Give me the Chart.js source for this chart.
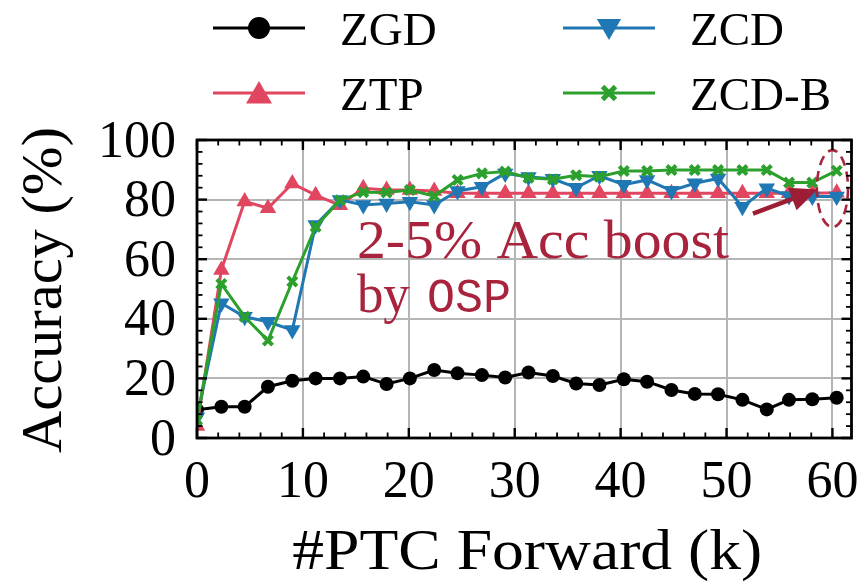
<!DOCTYPE html>
<html>
<head>
<meta charset="utf-8">
<script src="https://cdn.jsdelivr.net/npm/chart.js"></script>
<style>
  html, body { margin: 0; padding: 0; background: #fff; }
  #wrap { width: 862px; height: 581px; }
</style>
</head>
<body>
<div id="wrap"><canvas id="c" width="862" height="581"></canvas></div>
<script>
// ---- data ----
const xForwardK = [0, 2.3, 4.5, 6.7, 9.0, 11.2, 13.5, 15.7, 17.9, 20.1, 22.4, 24.6, 26.9, 29.1,
  31.3, 33.6, 35.8, 38.0, 40.3, 42.5, 44.8, 47.0, 49.2, 51.5, 53.8, 55.9, 58.1, 60.4];
const ZGD = [9.5, 10.5, 10.5, 17.2, 19.2, 20.0, 20.0, 20.6, 18.1, 20.0, 22.8, 21.7, 21.1, 20.3,
  22.0, 20.8, 18.3, 17.8, 19.7, 18.9, 16.1, 14.8, 14.7, 12.8, 9.6, 12.8, 13.0, 13.5];
const ZTP = [4.0, 56.4, 79.4, 77.1, 85.4, 81.5, 78.1, 83.8, 83.2, 83.2, 82.9, 82.1, 82.1, 82.1,
  82.1, 82.1, 82.1, 82.1, 82.1, 82.1, 82.1, 82.1, 82.1, 82.1, 82.1, 82.1, 82.1, 82.3];
const ZCD = [7.0, 45.2, 40.7, 39.0, 36.2, 71.5, 79.9, 78.2, 78.7, 79.3, 78.2, 82.9, 84.3, 88.8,
  87.6, 87.0, 84.0, 88.0, 85.0, 86.6, 83.0, 85.5, 87.1, 77.6, 83.8, 81.2, 81.0, 81.0];
const ZCDB = [6.0, 51.7, 40.7, 32.7, 52.5, 70.9, 79.8, 82.5, 82.4, 83.2, 81.2, 86.6, 88.8, 89.4,
  87.3, 86.8, 88.2, 87.7, 89.6, 89.6, 89.9, 89.9, 89.9, 89.9, 89.9, 85.7, 85.7, 89.7];
const seriesNames = ['ZGD', 'ZTP', 'ZCD', 'ZCD-B'];
const xTicks = [0, 10, 20, 30, 40, 50, 60];
const yTicks = [0, 20, 40, 60, 80, 100];
const xLabel = '#PTC Forward (k)';
const yLabel = 'Accuracy (%)';
const noteLine1 = '2-5% Acc boost';
const noteLine2a = 'by ';
const noteLine2b = 'OSP';

// ---- styling ----
const SERIF = "'Liberation Serif', 'DejaVu Serif', serif";
const MONO = "'Liberation Mono', 'DejaVu Sans Mono', monospace";
const C_BLACK = '#000000', C_RED = '#e0465f', C_BLUE = '#1f77b4', C_GREEN = '#2ca02c';
const C_NOTE = '#a8243d';

const pts = arr => arr.map((v, i) => ({ x: xForwardK[i], y: v }));

const datasets = [
  { label: seriesNames[0], data: pts(ZGD), borderColor: C_BLACK, backgroundColor: C_BLACK,
    pointStyle: 'circle', pointRadius: 7, pointBorderWidth: 0, order: 4 },
  { label: seriesNames[1], data: pts(ZTP), borderColor: C_RED, backgroundColor: C_RED,
    pointStyle: 'triangle', pointRadius: 9.5, pointBorderWidth: 0, order: 3 },
  { label: seriesNames[2], data: pts(ZCD), borderColor: C_BLUE, backgroundColor: C_BLUE,
    pointStyle: 'triangle', pointRotation: 180, pointRadius: 9.5, pointBorderWidth: 0, order: 2 },
  { label: seriesNames[3], data: pts(ZCDB), borderColor: C_GREEN, backgroundColor: C_GREEN,
    pointStyle: 'crossRot', pointRadius: 6.5, pointBorderWidth: 4, order: 1 }
].map(d => Object.assign({ borderWidth: 3, tension: 0, fill: false,
  pointHoverRadius: d.pointRadius, pointBorderColor: d.borderColor }, d));

function drawMarker(ctx, style, x, y, r, color, rot) {
  ctx.save();
  ctx.fillStyle = color; ctx.strokeStyle = color;
  ctx.translate(x, y);
  if (rot) ctx.rotate(rot * Math.PI / 180);
  ctx.beginPath();
  if (style === 'circle') {
    ctx.arc(0, 0, r, 0, Math.PI * 2); ctx.fill();
  } else if (style === 'triangle') {
    for (let k = 0; k < 3; k++) {
      const a = k * 2 * Math.PI / 3;
      const px = Math.sin(a) * r, py = -Math.cos(a) * r;
      if (k === 0) ctx.moveTo(px, py); else ctx.lineTo(px, py);
    }
    ctx.closePath(); ctx.fill();
  } else if (style === 'crossRot') {
    ctx.lineWidth = 5;
    ctx.moveTo(-r * 0.72, -r * 0.72); ctx.lineTo(r * 0.72, r * 0.72);
    ctx.moveTo(-r * 0.72, r * 0.72); ctx.lineTo(r * 0.72, -r * 0.72);
    ctx.stroke();
  }
  ctx.restore();
}

// text drawn with a horizontal stretch so that it spans a given width
function fittedText(ctx, text, x, y, font, width, align) {
  ctx.save();
  ctx.font = font;
  const w = ctx.measureText(text).width;
  const sx = width / w;
  ctx.translate(x, y);
  ctx.scale(sx, 1);
  ctx.textAlign = align || 'left';
  ctx.fillText(text, 0, 0);
  ctx.restore();
  return width;
}

const decor = {
  id: 'decor',
  afterDatasetsDraw(chart) {
    const { ctx, scales: { x, y } } = chart;
    ctx.save();
    ctx.fillStyle = C_NOTE;
    ctx.textBaseline = 'alphabetic';
    const tx = x.getPixelForValue(15.1);
    fittedText(ctx, noteLine1, tx, y.getPixelForValue(60.4), `54px ${SERIF}`, 372);
    const by = y.getPixelForValue(42.2);
    const w = fittedText(ctx, noteLine2a, tx, by, `54px ${SERIF}`, 66);
    fittedText(ctx, noteLine2b, tx + w + 4, by, `48px ${MONO}`, 84);
    // dashed ellipse
    const cx = x.getPixelForValue(60.0), cy = y.getPixelForValue(83.7);
    const rx = x.getPixelForValue(60.0 + 1.47) - cx;
    const ry = cy - y.getPixelForValue(83.7 + 12.9);
    ctx.strokeStyle = C_NOTE; ctx.lineWidth = 2.6;
    ctx.setLineDash([10, 6]);
    ctx.beginPath(); ctx.ellipse(cx, cy, rx, ry, 0, 0, Math.PI * 2); ctx.stroke();
    ctx.setLineDash([]);
    // arrow
    const x0 = x.getPixelForValue(52.5), y0 = y.getPixelForValue(75.3);
    const x1 = x.getPixelForValue(58.6), y1 = y.getPixelForValue(83.4);
    const ang = Math.atan2(y1 - y0, x1 - x0);
    const hl = 27, hw = 12;
    const bx = x1 - hl * Math.cos(ang), byy = y1 - hl * Math.sin(ang);
    ctx.strokeStyle = '#9c1d34'; ctx.fillStyle = '#9c1d34';
    ctx.lineWidth = 4.5;
    ctx.beginPath(); ctx.moveTo(x0, y0); ctx.lineTo(bx, byy); ctx.stroke();
    ctx.beginPath();
    ctx.moveTo(x1, y1);
    ctx.lineTo(bx + hw * Math.sin(ang), byy - hw * Math.cos(ang));
    ctx.lineTo(bx - hw * Math.sin(ang), byy + hw * Math.cos(ang));
    ctx.closePath(); ctx.fill();
    ctx.restore();
  },
  afterDraw(chart) {
    const { ctx, chartArea: a, scales: { x, y } } = chart;
    ctx.save();
    // inward ticks on all four sides
    ctx.strokeStyle = '#000';
    const tick = (x1, y1, x2, y2, lw) => { ctx.lineWidth = lw; ctx.beginPath(); ctx.moveTo(x1, y1); ctx.lineTo(x2, y2); ctx.stroke(); };
    for (let v = 0; v <= 61; v += 2) {
      const px = x.getPixelForValue(v);
      const major = v % 10 === 0;
      const L = major ? 10 : 5.5, lw = major ? 2.4 : 1.8;
      tick(px, a.bottom, px, a.bottom - L, lw);
      tick(px, a.top, px, a.top + L, lw);
    }
    for (let v = 0; v <= 100; v += 4) {
      const py = y.getPixelForValue(v);
      const major = v % 20 === 0;
      const L = major ? 10 : 5.5, lw = major ? 2.4 : 1.8;
      tick(a.left, py, a.left + L, py, lw);
      tick(a.right, py, a.right - L, py, lw);
    }
    // frame
    ctx.lineWidth = 2.8;
    ctx.strokeRect(a.left, a.top, a.right - a.left, a.bottom - a.top);
    // axis titles
    ctx.fillStyle = '#000';
    ctx.textBaseline = 'alphabetic';
    fittedText(ctx, xLabel, (a.left + a.right) / 2 + 3, 569, `56px ${SERIF}`, 470, 'center');
    ctx.save();
    ctx.translate(61, (a.top + a.bottom) / 2 + 1);
    ctx.rotate(-Math.PI / 2);
    fittedText(ctx, yLabel, 0, 0, `56px ${SERIF}`, 326, 'center');
    ctx.restore();
    // legend
    const rows = [
      { i: 0, lx: 213, ly: 28, style: 'circle', r: 11, rot: 0, col: C_BLACK },
      { i: 2, lx: 563, ly: 28, style: 'triangle', r: 14, rot: 180, col: C_BLUE },
      { i: 1, lx: 213, ly: 93, style: 'triangle', r: 15, rot: 0, col: C_RED },
      { i: 3, lx: 563, ly: 93, style: 'crossRot', r: 9, rot: 0, col: C_GREEN }
    ];
    ctx.font = `47px ${SERIF}`;
    ctx.textAlign = 'left';
    rows.forEach(rw => {
      ctx.strokeStyle = rw.col; ctx.lineWidth = 3;
      ctx.beginPath(); ctx.moveTo(rw.lx, rw.ly); ctx.lineTo(rw.lx + 92, rw.ly); ctx.stroke();
      drawMarker(ctx, rw.style, rw.lx + 46, rw.ly + (rw.style === 'triangle' ? (rw.rot ? -2 : 3) : 0), rw.r, rw.col, rw.rot);
      ctx.fillStyle = '#000';
      ctx.fillText(chart.data.datasets[rw.i].label, rw.lx + 127, rw.ly + 17);
    });
    ctx.restore();
  }
};

new Chart(document.getElementById('c'), {
  type: 'line',
  data: { datasets },
  plugins: [decor],
  options: {
    responsive: false,
    devicePixelRatio: 1,
    animation: false,
    events: [],
    layout: { padding: { top: 140, right: 10, left: 0, bottom: 0 } },
    plugins: { legend: { display: false }, tooltip: { enabled: false } },
    scales: {
      x: {
        type: 'linear', min: 0, max: 61.8,
        afterFit: s => { s.height = 143; s.paddingLeft = 0; s.paddingRight = 0; },
        afterBuildTicks: s => { s.ticks = xTicks.map(v => ({ value: v })); },
        ticks: { includeBounds: false, autoSkip: false, maxRotation: 0, color: '#000', padding: 14,
          font: { family: SERIF, size: 52 } },
        grid: { color: '#b5b5b5', lineWidth: 2, drawTicks: false },
        border: { display: false },
        title: { display: false }
      },
      y: {
        type: 'linear', min: 0, max: 100,
        afterFit: s => { s.width = 197; s.paddingTop = 0; s.paddingBottom = 0; },
        afterBuildTicks: s => { s.ticks = yTicks.map(v => ({ value: v })); },
        ticks: { includeBounds: false, autoSkip: false, color: '#000', padding: 21, labelOffset: 3,
          font: { family: SERIF, size: 52 } },
        grid: { color: '#b5b5b5', lineWidth: 2, drawTicks: false },
        border: { display: false },
        title: { display: false }
      }
    }
  }
});
</script>
</body>
</html>
